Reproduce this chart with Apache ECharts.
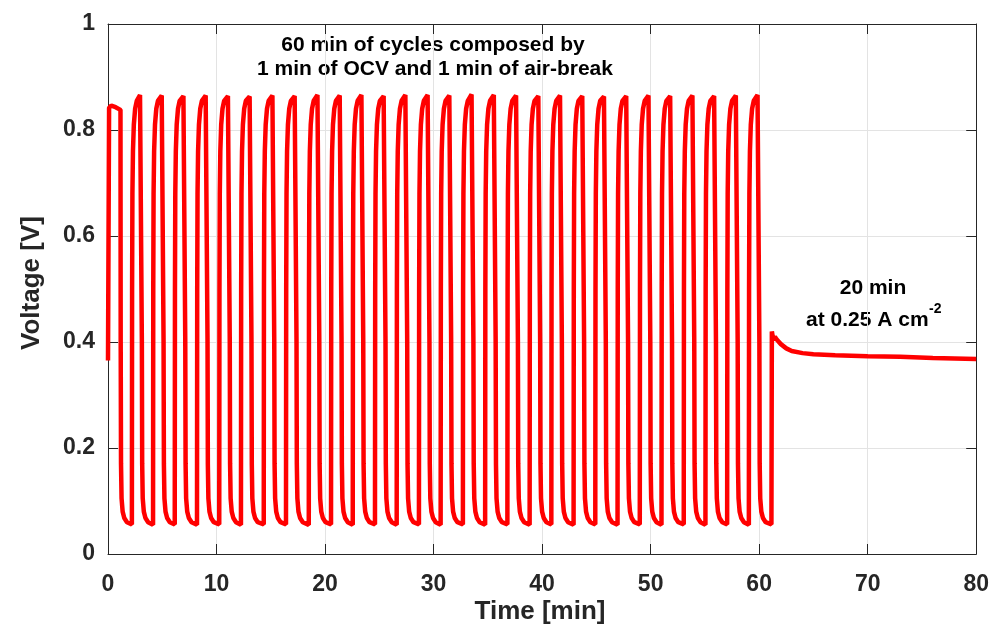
<!DOCTYPE html>
<html>
<head>
    <title>Voltage during OCV / air-break cycles</title>
    <style>
        body {
            margin: 0;
            background: #ffffff;
        }

        #chart {
            width: 992px;
            height: 630px;
        }
    </style>
    <script src="https://cdn.jsdelivr.net/npm/echarts@6/dist/echarts.min.js"></script>
</head>
<body>
    <div id="chart"></div>

    <script>
        // first minute at OCV [time min, voltage V]
        var startTrace = [[0, 0.365], [0.07, 0.365], [0.1, 0.842], [0.3, 0.846], [0.7, 0.843], [1.15, 0.838]];

        // OCV -> air-break switch times (min)
        var fallTimes = [1.15, 3.1, 5.1, 7.1, 9.15, 11.2, 13.2, 15.3, 17.35, 19.45,
            21.5, 23.5, 25.55, 27.55, 29.6, 31.6, 33.65, 35.7, 37.75, 39.8,
            41.8, 43.85, 45.85, 47.9, 49.95, 51.95, 54.0, 56.0, 58.0, 60.0];

        // air-break -> OCV switch times (min)
        var riseTimes = [2.2, 4.15, 6.15, 8.2, 10.25, 12.25, 14.35, 16.4, 18.5, 20.55,
            22.55, 24.6, 26.6, 28.65, 30.65, 32.7, 34.75, 36.8, 38.85, 40.85,
            42.9, 44.9, 46.95, 49.0, 51.0, 53.05, 55.05, 57.05, 59.05];

        // top of each OCV minute (V)
        var ocvPeaks = [0.866, 0.865, 0.864, 0.865, 0.864, 0.863, 0.865, 0.864, 0.866, 0.865,
            0.866, 0.864, 0.866, 0.866, 0.865, 0.867, 0.866, 0.865, 0.864, 0.865,
            0.864, 0.863, 0.864, 0.865, 0.864, 0.865, 0.864, 0.865, 0.866];

        // bottom of each air-break minute (V)
        var breakLows = [0.056, 0.055, 0.056, 0.055, 0.056, 0.055, 0.056, 0.056, 0.055, 0.056,
            0.055, 0.056, 0.055, 0.056, 0.055, 0.056, 0.055, 0.056, 0.055, 0.056,
            0.055, 0.056, 0.055, 0.056, 0.055, 0.056, 0.055, 0.056, 0.055, 0.056];

        // edge shapes of a cycle: [minutes after the switch, voltage]
        var fallShape = [[0.02, 0.40], [0.05, 0.17], [0.1, 0.105], [0.2, 0.08], [0.35, 0.068], [0.6, 0.06]];
        var riseShape = [[0.02, 0.5], [0.05, 0.68], [0.1, 0.76], [0.18, 0.81], [0.3, 0.84], [0.45, 0.855]];

        // 20 min at 0.25 A cm-2
        var holdTrace = [[61.15, 0.056], [61.17, 0.42], [61.3, 0.404], [61.45, 0.41], [61.6, 0.405],
            [62, 0.396], [62.5, 0.388], [63, 0.383], [64, 0.379], [65, 0.377], [67, 0.375],
            [70, 0.373], [73, 0.372], [76, 0.370], [78, 0.369], [80, 0.368]];

        var xTicks = [0, 10, 20, 30, 40, 50, 60, 70, 80];
        var yTicks = [0, 0.2, 0.4, 0.6, 0.8, 1];

        var data = startTrace.slice();
        fallTimes.forEach(function (tf, i) {
            fallShape.forEach(function (p) {
                data.push([tf + p[0], p[1]]);
            });
            if (i < riseTimes.length) {
                var tr = riseTimes[i];
                data.push([tr, breakLows[i]]);
                riseShape.forEach(function (p) {
                    data.push([tr + p[0], p[1]]);
                });
                data.push([fallTimes[i + 1] - 0.15, ocvPeaks[i]]);
                data.push([fallTimes[i + 1], ocvPeaks[i] - 0.002]);
            } else {
                data.push([holdTrace[0][0] - 0.02, breakLows[i]]);
            }
        });
        holdTrace.forEach(function (p) {
            data.push(p);
        });

        var ink = '#262626';
        var fontFamily = '"Liberation Sans", Arial, Helvetica, sans-serif';

        var chart = echarts.init(document.getElementById('chart'));

        var option = {
            animation: false,
            grid: {
                left: 108,
                top: 24,
                width: 871,
                height: 530,
                show: false
            },
            xAxis: [{
                type: 'value',
                position: 'bottom',
                min: xTicks[0],
                max: xTicks[xTicks.length - 1],
                interval: 10,
                axisLine: { show: true, onZero: false, lineStyle: { color: ink, width: 1 } },
                axisTick: { show: true, inside: true, length: 10, lineStyle: { color: ink } },
                axisLabel: { color: ink, fontSize: 23, fontWeight: 'bold', fontFamily: fontFamily, margin: 11 },
                splitLine: { show: true, lineStyle: { color: '#e3e3e3', width: 1 } }
            }, {
                type: 'value',
                position: 'top',
                min: xTicks[0],
                max: xTicks[xTicks.length - 1],
                interval: 10,
                axisLine: { show: true, onZero: false, lineStyle: { color: ink, width: 1 } },
                axisTick: { show: true, inside: true, length: 10, lineStyle: { color: ink } },
                axisLabel: { show: false },
                splitLine: { show: false }
            }],
            yAxis: [{
                type: 'value',
                position: 'left',
                min: yTicks[0],
                max: yTicks[yTicks.length - 1],
                interval: 0.2,
                axisLine: { show: true, onZero: false, lineStyle: { color: ink, width: 1 } },
                axisTick: { show: true, inside: true, length: 10, lineStyle: { color: ink } },
                axisLabel: {
                    color: ink, fontSize: 23, fontWeight: 'bold', fontFamily: fontFamily, margin: 13,
                    formatter: function (v) {
                        return (v === 0 || v === 1) ? String(v) : v.toFixed(1);
                    }
                },
                splitLine: { show: true, lineStyle: { color: '#e3e3e3', width: 1 } }
            }, {
                type: 'value',
                position: 'right',
                min: yTicks[0],
                max: yTicks[yTicks.length - 1],
                interval: 0.2,
                axisLine: { show: true, onZero: false, lineStyle: { color: ink, width: 1 } },
                axisTick: { show: true, inside: true, length: 10, lineStyle: { color: ink } },
                axisLabel: { show: false },
                splitLine: { show: false }
            }],
            series: [{
                type: 'line',
                data: data,
                showSymbol: false,
                clip: true,
                lineStyle: { color: '#ff0000', width: 4.5 },
                itemStyle: { color: '#ff0000' }
            }],
            graphic: [{
                type: 'text', x: 540, y: 612,
                style: {
                    text: 'Time [min]', fill: ink, font: 'bold 26px ' + fontFamily,
                    align: 'center', verticalAlign: 'middle', textAlign: 'center', textVerticalAlign: 'middle'
                }
            }, {
                type: 'text', x: 32, y: 283, rotation: Math.PI / 2,
                style: {
                    text: 'Voltage [V]', fill: ink, font: 'bold 26px ' + fontFamily,
                    align: 'center', verticalAlign: 'middle', textAlign: 'center', textVerticalAlign: 'middle'
                }
            }, {
                type: 'text', x: 433, y: 45,
                style: {
                    text: '60 min of cycles composed by', fill: '#000', font: 'bold 21px ' + fontFamily,
                    align: 'center', verticalAlign: 'middle', textAlign: 'center', textVerticalAlign: 'middle'
                }
            }, {
                type: 'text', x: 435, y: 69,
                style: {
                    text: '1 min of OCV and 1 min of air-break', fill: '#000', font: 'bold 21px ' + fontFamily,
                    align: 'center', verticalAlign: 'middle', textAlign: 'center', textVerticalAlign: 'middle'
                }
            }, {
                type: 'text', x: 873, y: 288,
                style: {
                    text: '20 min', fill: '#000', font: 'bold 21px ' + fontFamily,
                    align: 'center', verticalAlign: 'middle', textAlign: 'center', textVerticalAlign: 'middle'
                }
            }, {
                type: 'text', x: 806, y: 320,
                style: {
                    text: 'at 0.25 A cm', fill: '#000', font: 'bold 21px ' + fontFamily,
                    align: 'left', verticalAlign: 'middle', textAlign: 'left', textVerticalAlign: 'middle'
                }
            }, {
                type: 'text', x: 929, y: 309,
                style: {
                    text: '-2', fill: '#000', font: 'bold 14px ' + fontFamily,
                    align: 'left', verticalAlign: 'middle', textAlign: 'left', textVerticalAlign: 'middle'
                }
            }]
        };

        chart.setOption(option);
    </script>
</body>
</html>
